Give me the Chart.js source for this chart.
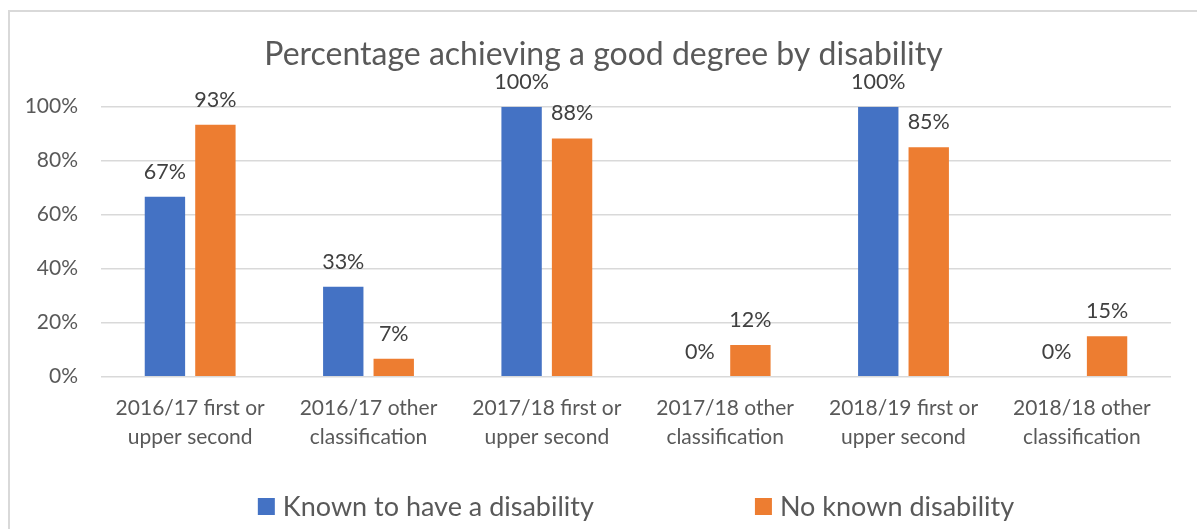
<!DOCTYPE html>
<html>
<head>
<meta charset="utf-8">
<title>Percentage achieving a good degree by disability</title>
<script src="https://cdn.jsdelivr.net/npm/chart.js@4.4.1/dist/chart.umd.min.js"></script>
<style>
  html, body { margin: 0; padding: 0; background: #ffffff; overflow: hidden; }
  #wrap { position: relative; width: 1197px; height: 529px; }
  #frame { position: absolute; left: 8px; top: 10px; width: 1200px; height: 540px;
           border: 2px solid #d9d9d9; box-sizing: border-box; pointer-events: none; }
  canvas { position: absolute; left: 0; top: 0; }
</style>
</head>
<body>
<div id="wrap">
  <div id="frame"></div>
  <canvas id="chart" width="1197" height="529"></canvas>
</div>
<script>
// Categories (two-line labels) and series values, in percent
const categories = [
  ['2016/17 first or', 'upper second'],
  ['2016/17 other', 'classification'],
  ['2017/18 first or', 'upper second'],
  ['2017/18 other', 'classification'],
  ['2018/19 first or', 'upper second'],
  ['2018/18 other', 'classification']
];
const knownDisability = [66.67, 33.33, 100, 0, 100, 0];
const noKnownDisability = [93.33, 6.67, 88.24, 11.76, 85.0, 15.0];
const yTicks = [0, 20, 40, 60, 80, 100];
const seriesNames = ['Known to have a disability', 'No known disability'];
const seriesColors = ['#4472c4', '#ed7d31'];
const chartTitle = 'Percentage achieving a good degree by disability';

const FONT = 'Lato, "Open Sans", sans-serif';
Chart.defaults.font.family = FONT;

// Title centred on the outer frame (frame spans x = 8 .. 1199)
const frameTitle = {
  id: 'frameTitle',
  afterDraw(chart) {
    const ctx = chart.ctx;
    ctx.save();
    ctx.font = '32px ' + FONT;
    ctx.fillStyle = '#595959';
    ctx.textAlign = 'center';
    ctx.textBaseline = 'middle';
    ctx.fillText(chartTitle, (8 + 1199) / 2, 55);
    ctx.restore();
  }
};

// Value labels above each bar
const valueLabels = {
  id: 'valueLabels',
  afterDatasetsDraw(chart) {
    const ctx = chart.ctx;
    ctx.save();
    ctx.font = '21.5px ' + FONT;
    ctx.fillStyle = '#404040';
    ctx.textAlign = 'center';
    ctx.textBaseline = 'middle';
    chart.data.datasets.forEach((ds, di) => {
      const meta = chart.getDatasetMeta(di);
      meta.data.forEach((bar, i) => {
        ctx.fillText(Math.round(ds.data[i]) + '%', bar.x, bar.y - 25);
      });
    });
    ctx.restore();
  }
};

// Legend row centred under the plot area
const bottomLegend = {
  id: 'bottomLegend',
  afterDraw(chart) {
    const ctx = chart.ctx;
    const area = chart.chartArea;
    const box = 17, boxGap = 8, itemGap = 161;
    ctx.save();
    ctx.font = '27px ' + FONT;
    const widths = chart.data.datasets.map(ds => box + boxGap + ctx.measureText(ds.label).width);
    const total = widths.reduce((a, b) => a + b, 0) + itemGap * (widths.length - 1);
    let x = (area.left + area.right) / 2 - total / 2;
    const cy = 506.5;
    ctx.textBaseline = 'middle';
    ctx.textAlign = 'left';
    chart.data.datasets.forEach((ds, i) => {
      ctx.fillStyle = ds.backgroundColor;
      ctx.fillRect(x, cy - box / 2, box, box);
      ctx.fillStyle = '#595959';
      ctx.fillText(ds.label, x + box + boxGap, cy + 1);
      x += widths[i] + itemGap;
    });
    ctx.restore();
  }
};

new Chart(document.getElementById('chart'), {
  type: 'bar',
  data: {
    labels: categories,
    datasets: [
      { label: seriesNames[0], data: knownDisability, backgroundColor: seriesColors[0],
        categoryPercentage: 0.566, barPercentage: 0.8 },
      { label: seriesNames[1], data: noKnownDisability, backgroundColor: seriesColors[1],
        categoryPercentage: 0.566, barPercentage: 0.8 }
    ]
  },
  options: {
    responsive: false,
    animation: false,
    layout: { padding: { left: 0, right: 26, top: 106.7, bottom: 60 } },
    plugins: {
      legend: { display: false },
      tooltip: { enabled: false },
      title: { display: false }
    },
    scales: {
      x: {
        grid: { display: false, drawTicks: false },
        border: { display: false },
        ticks: { color: '#595959', font: { size: 21, lineHeight: 1.38 }, padding: 17, maxRotation: 0, autoSkip: false },
        afterFit(scale) { scale.height = 92.3; }
      },
      y: {
        min: 0,
        max: 100,
        afterBuildTicks(scale) { scale.ticks = yTicks.map(v => ({ value: v })); },
        grid: { color: '#d9d9d9', lineWidth: 1.5, drawTicks: false },
        border: { display: false },
        ticks: { color: '#595959', font: { size: 21 }, padding: 23, callback: v => v + '%' },
        afterFit(scale) { scale.width = 101; }
      }
    }
  },
  plugins: [frameTitle, valueLabels, bottomLegend]
});
</script>
</body>
</html>
